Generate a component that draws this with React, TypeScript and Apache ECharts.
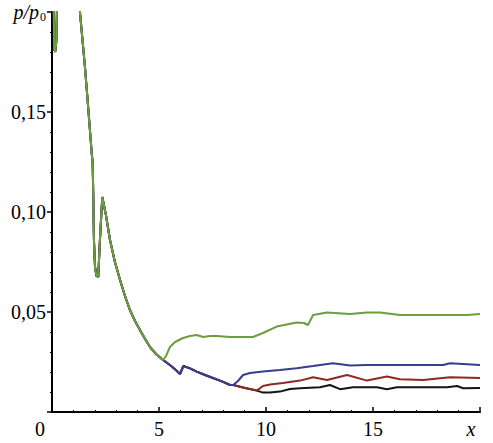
import React, { useEffect, useRef } from "react";
import * as echarts from "echarts";

// Shared path of all four curves (x, p/p0)
const trunkStart: [number, number][] = [
  [0.06, 0.23], [0.1, 0.182], [0.15, 0.18], [0.2, 0.185], [0.25, 0.21], [0.8, 0.32],
  [1.31, 0.1995], [1.54, 0.1725], [1.7, 0.151], [1.855, 0.1295], [1.9, 0.1245],
  [1.93, 0.1075], [1.96, 0.086], [2.01, 0.0725], [2.08, 0.068], [2.16, 0.0675],
  [2.24, 0.086], [2.35, 0.1075], [2.52, 0.0985], [2.71, 0.086], [2.94, 0.075],
  [3.18, 0.066], [3.41, 0.058], [3.64, 0.051], [3.88, 0.0455], [4.11, 0.041],
  [4.35, 0.0365], [4.58, 0.0325], [4.86, 0.029], [5.19, 0.026],
];

const greenBranch: [number, number][] = [
  [5.33, 0.028], [5.51, 0.0325], [5.75, 0.035], [6.12, 0.037], [6.45, 0.038],
  [6.76, 0.0385], [7.06, 0.0375], [7.38, 0.038], [7.7, 0.038], [8.32, 0.0375],
  [9.39, 0.0375], [9.86, 0.0395], [10.5, 0.0427], [11.43, 0.0447], [11.78, 0.0445],
  [11.96, 0.0435], [12.2, 0.0485], [12.85, 0.0497], [13.93, 0.049], [14.72, 0.0497],
  [15.33, 0.0497], [16.26, 0.0485], [17.06, 0.0485], [19.39, 0.0485], [20.0, 0.049],
];

// Shared by blue, red and black after the green one leaves
const lowerTrunk: [number, number][] = [
  [5.51, 0.0235], [5.79, 0.021], [5.98, 0.019], [6.14, 0.023], [6.45, 0.0218],
  [6.76, 0.0202], [7.15, 0.0185], [7.52, 0.017], [7.94, 0.0153], [8.32, 0.0135],
  [8.47, 0.0135],
];

const blueBranch: [number, number][] = [
  [8.69, 0.0155], [8.93, 0.0185], [9.25, 0.0195], [9.86, 0.0202], [10.65, 0.021],
  [11.43, 0.0219], [12.2, 0.023], [13.13, 0.0244], [13.93, 0.0232], [14.72, 0.0235],
  [18.27, 0.0235], [18.6, 0.0244], [20.0, 0.0235],
];

// Shared by red and black
const redBlackTrunk: [number, number][] = [[9.02, 0.012], [9.57, 0.0107]];

const redBranch: [number, number][] = [
  [9.86, 0.013], [10.19, 0.0138], [10.79, 0.0145], [11.59, 0.0157], [12.2, 0.0174],
  [12.85, 0.016], [13.79, 0.0185], [14.72, 0.0157], [15.65, 0.0177], [16.26, 0.0164],
  [17.34, 0.016], [18.6, 0.0174], [20.0, 0.017],
];

const blackBranch: [number, number][] = [
  [9.86, 0.0097], [10.19, 0.0098], [10.65, 0.0102], [11.12, 0.0115], [11.59, 0.0119],
  [12.52, 0.0124], [12.99, 0.0135], [13.46, 0.0114], [14.07, 0.0124], [15.19, 0.0124],
  [15.65, 0.0114], [16.12, 0.0124], [18.46, 0.0124], [18.93, 0.013], [19.21, 0.0119],
  [20.0, 0.012],
];

const xTickLabels = ["{z|0}", "5", "10", "15", "{it|x}"];
const yTickLabels = ["", "0,05", "0,10", "0,15", "{i|p/p}{s|0}"];

const FONT = "Liberation Serif";

export default function App() {
  const ref = useRef<HTMLDivElement>(null);
  useEffect(() => {
    if (!ref.current) return;
    const chart = echarts.init(ref.current, null, { renderer: "svg" });
    const lineSeries = (data: [number, number][], color: string, z: number) => ({
      type: "line",
      data,
      showSymbol: false,
      symbol: "none",
      clip: true,
      z,
      lineStyle: { color, width: 2 },
    });
    chart.setOption({
      animation: false,
      backgroundColor: "#ffffff",
      textStyle: { fontFamily: FONT },
      grid: { left: 52, right: 13, top: 12, bottom: 31, containLabel: false, outerBoundsMode: "none" },
      xAxis: {
        type: "value",
        min: 0,
        max: 20,
        interval: 5,
        axisLine: { lineStyle: { color: "#000", width: 2 } },
        axisTick: { inside: true, length: 5, lineStyle: { color: "#000", width: 1.5 } },
        minorTick: { show: true, splitNumber: 5, length: 2, lineStyle: { color: "#000" } },
        splitLine: { show: false },
        axisLabel: {
          color: "#000",
          fontFamily: FONT,
          fontSize: 20,
          margin: 7,
          formatter: (v: number) => xTickLabels[Math.round(v / 5)] ?? "",
          rich: {
            z: { fontFamily: FONT, fontSize: 20, color: "#000", padding: [0, 24, 0, 0] },
            it: { fontFamily: FONT, fontSize: 20, color: "#000", fontStyle: "italic", padding: [0, 18, 0, 0] },
          },
        },
      },
      yAxis: {
        type: "value",
        min: 0,
        max: 0.2,
        interval: 0.05,
        axisLine: { show: true, lineStyle: { color: "#000", width: 2 } },
        axisTick: { show: true, inside: false, length: 5, lineStyle: { color: "#000", width: 1.5 } },
        minorTick: { show: true, splitNumber: 5, length: 2, lineStyle: { color: "#000" } },
        splitLine: { show: false },
        axisLabel: {
          color: "#000",
          fontFamily: FONT,
          fontSize: 20,
          margin: 6,
          formatter: (v: number) => yTickLabels[Math.round(v / 0.05)] ?? "",
          rich: {
            i: { fontFamily: FONT, fontSize: 20, color: "#000", fontStyle: "italic" },
            s: { fontFamily: FONT, fontSize: 12, color: "#000", padding: [10, 0, 0, 1] },
          },
        },
      },
      series: [
        lineSeries([...trunkStart, ...lowerTrunk, ...redBlackTrunk, ...blackBranch], "#151515", 1),
        lineSeries([...trunkStart, ...lowerTrunk, ...redBlackTrunk, ...redBranch], "#8b2c22", 2),
        lineSeries([...trunkStart, ...lowerTrunk, ...blueBranch], "#3a3c8e", 3),
        lineSeries([...trunkStart, ...greenBranch], "#6b9e3c", 4),
      ],
    });
    return () => chart.dispose();
  }, []);
  return (
    <div
      ref={ref}
      style={{ position: "absolute", left: 0, top: 0, width: 493, height: 443, background: "#fff" }}
    />
  );
}
